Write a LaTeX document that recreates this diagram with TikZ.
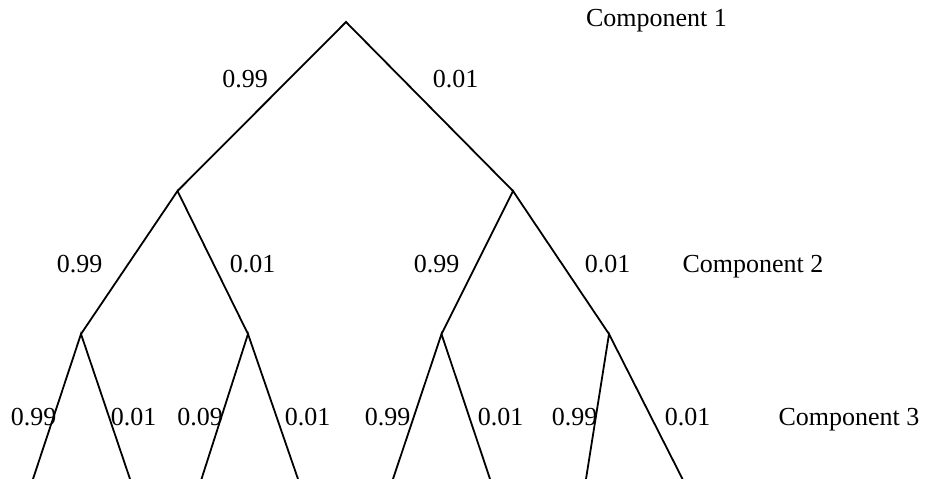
\documentclass[tikz,border=0pt]{standalone}
\usepackage{fontspec}
\setmainfont{Liberation Serif}
\begin{document}
\begin{tikzpicture}[x=1pt,y=-1pt,
  edge/.style={line width=1.8pt,black},
  lbl/.style={anchor=base,inner sep=0pt,font=\fontsize{26}{30}\selectfont}]
\useasboundingbox (0,0) rectangle (926,479);
% tree points
\coordinate (r) at (346,22);
\coordinate (a) at (177.5,191);
\coordinate (b) at (513,191);
\coordinate (aa) at (81,334);
\coordinate (ab) at (248,334);
\coordinate (ba) at (441.5,334);
\coordinate (bb) at (609,334);
\coordinate (l1) at (33,479);
\coordinate (l2) at (130,479);
\coordinate (l3) at (201.5,479);
\coordinate (l4) at (298,479);
\coordinate (l5) at (393,479);
\coordinate (l6) at (490,479);
\coordinate (l7) at (586,479);
\coordinate (l8) at (682.5,479);
% edges
\draw[edge] (a) -- (r) -- (b);
\draw[edge] (aa) -- (a) -- (ab);
\draw[edge] (ba) -- (b) -- (bb);
\draw[edge] (l1) -- (aa) -- (l2);
\draw[edge] (l3) -- (ab) -- (l4);
\draw[edge] (l5) -- (ba) -- (l6);
\draw[edge] (l7) -- (bb) -- (l8);
% labels
\node[lbl] (c1) at (656.5,26.5) {Component 1};
\node[lbl] (p1) at (245,87) {0.99};
\node[lbl] (p2) at (455.5,87) {0.01};
\node[lbl] (p3) at (79.5,272) {0.99};
\node[lbl] (p4) at (252.5,272) {0.01};
\node[lbl] (p5) at (436.5,272) {0.99};
\node[lbl] (p6) at (607.5,272) {0.01};
\node[lbl] (c2) at (753,272) {Component 2};
\node[lbl] (q1) at (33.5,425.5) {0.99};
\node[lbl] (q2) at (133.5,425.5) {0.01};
\node[lbl] (q3) at (200,425.5) {0.09};
\node[lbl] (q4) at (307.5,425.5) {0.01};
\node[lbl] (q5) at (387.5,425.5) {0.99};
\node[lbl] (q6) at (500.5,425.5) {0.01};
\node[lbl] (q7) at (574.5,425.5) {0.99};
\node[lbl] (q8) at (687.5,425.5) {0.01};
\node[lbl] (c3) at (849,425.5) {Component 3};
\end{tikzpicture}
\end{document}
